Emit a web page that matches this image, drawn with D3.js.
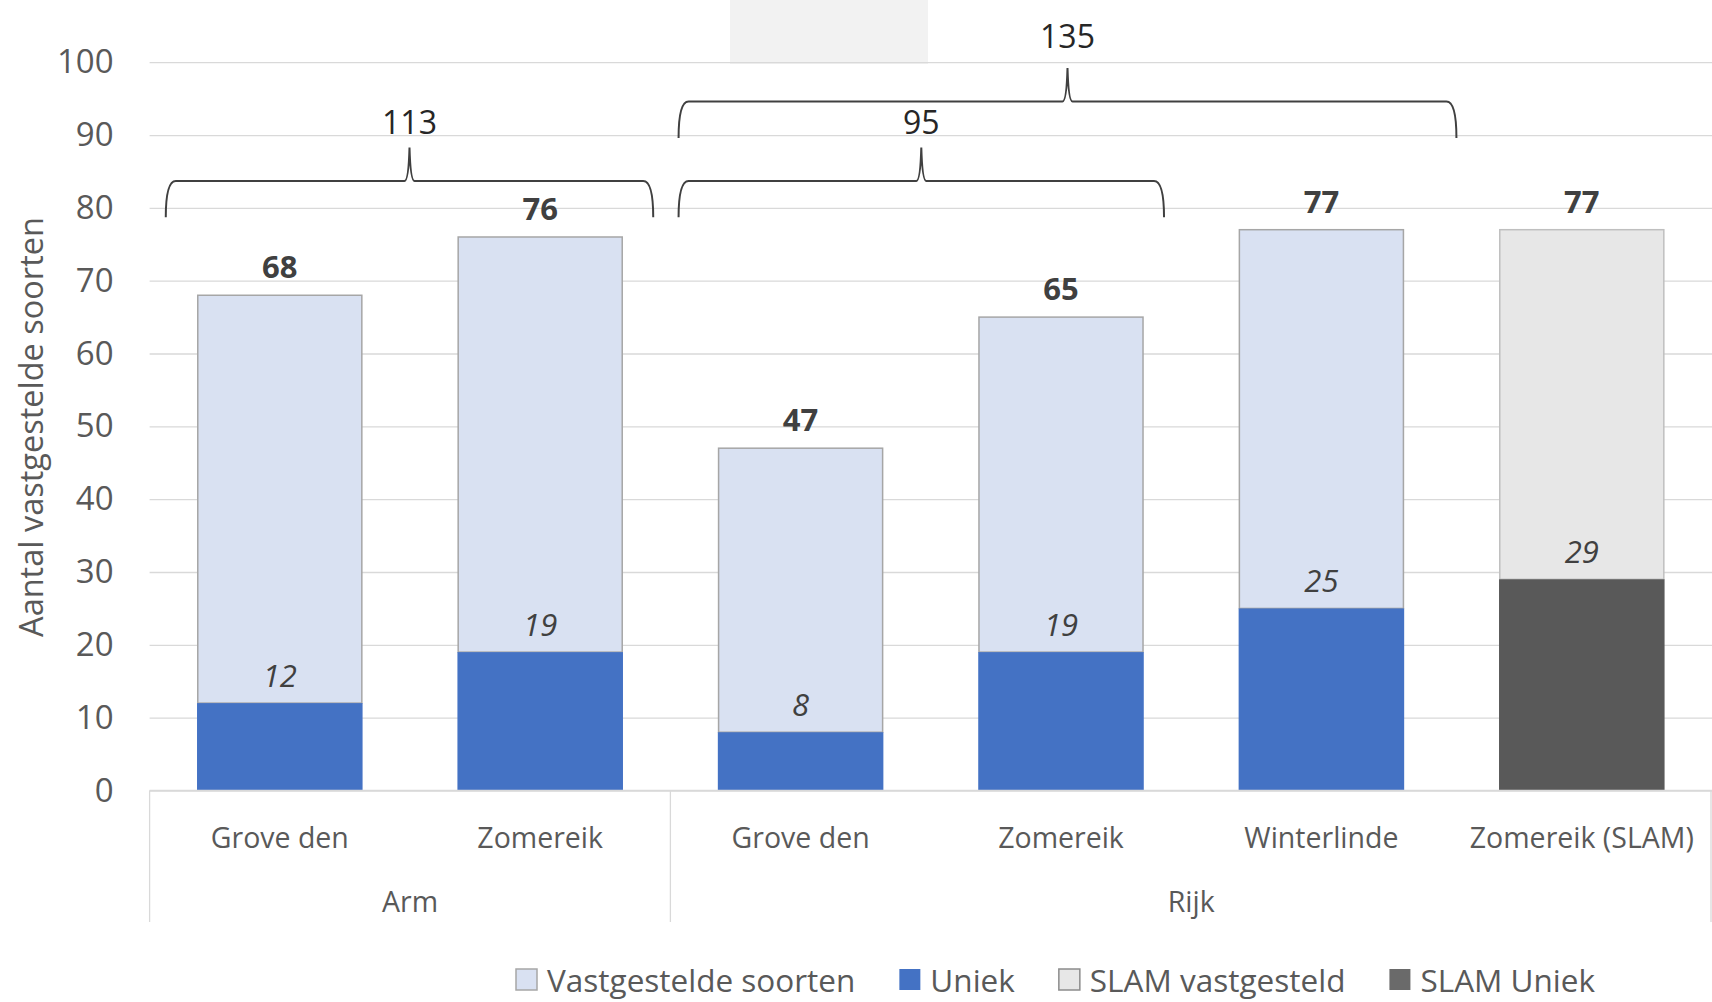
<!DOCTYPE html>
<html><head><meta charset="utf-8">
<script src="https://cdn.jsdelivr.net/npm/d3@7"></script>
<style>
html,body{margin:0;padding:0;background:#fff;}
svg{display:block;font-family:"Open Sans",sans-serif;}
</style></head>
<body>
<svg id="chart" width="1712" height="1002"></svg>
<script>
// ---- data ----
const categories = ["Grove den","Zomereik","Grove den","Zomereik","Winterlinde","Zomereik (SLAM)"];
const groups = ["Arm","Arm","Rijk","Rijk","Rijk","Rijk"];
const totals = [68,76,47,65,77,77];
const uniek = [12,19,8,19,25,29];
const slamFlags = [false,false,false,false,false,true];
const yTicks = [0,10,20,30,40,50,60,70,80,90,100];
const braceLabels = ["113","95","135"];
const braceFrom = [0,2,2];
const braceTo = [1,3,4];
const braceLevel = [0,0,1];
const legendLabels = ["Vastgestelde soorten","Uniek","SLAM vastgesteld","SLAM Uniek"];

// ---- layout / style ----
const W = 1712, H = 1002;
const left = 149.6, right = 1712, y0px = 790.5, y100px = 62.2;
const colors = {vast:"#d9e1f2", vastStroke:"#a6a6a6", uniek:"#4472c4",
  slamVast:"#e7e7e7", slamVastStroke:"#bfbfbf", slamUniek:"#595959"};
const bracePadL = [32,40,40], bracePadR = [31,21,53];

const svg = d3.select("#chart");

const x = d3.scaleBand().domain(d3.range(categories.length)).range([left,right])
  .paddingInner(0.37).paddingOuter(0.185);
const y = d3.scaleLinear().domain([0,100]).range([y0px,y100px]);

// grey artifact box at top
svg.append("rect").attr("x",730).attr("y",0).attr("width",198).attr("height",64)
  .attr("fill","#f2f2f2");

// y axis with gridlines
const yAxis = svg.append("g").attr("transform",`translate(${left},0)`)
  .call(d3.axisLeft(y).tickValues(yTicks).tickSize(-(right-left)).tickPadding(36));
yAxis.select(".domain").remove();
yAxis.selectAll(".tick line").attr("stroke","#d9d9d9").attr("stroke-width",1.3);
yAxis.selectAll(".tick text").attr("fill","#595959").attr("font-size",33)
  .attr("font-family","Open Sans");

// y axis title
svg.append("text").attr("transform",`translate(30,427) rotate(-90)`)
  .attr("text-anchor","middle").attr("dominant-baseline","central")
  .attr("fill","#595959").attr("font-size",32.5).text("Aantal vastgestelde soorten");

// bars
const bars = svg.append("g");
categories.forEach((c,i)=>{
  const bx = x(i), bw = x.bandwidth();
  const slam = slamFlags[i];
  bars.append("rect").attr("x",bx).attr("width",bw)
    .attr("y",y(totals[i])).attr("height",y(uniek[i])-y(totals[i]))
    .attr("fill", slam?colors.slamVast:colors.vast)
    .attr("stroke", slam?colors.slamVastStroke:colors.vastStroke).attr("stroke-width",1.5);
  bars.append("rect").attr("x",bx-0.75).attr("width",bw+1.5)
    .attr("y",y(uniek[i])).attr("height",y(0)-y(uniek[i]))
    .attr("fill", slam?colors.slamUniek:colors.uniek);
  // total label
  bars.append("text").attr("x",bx+bw/2).attr("y",y(totals[i])-29)
    .attr("text-anchor","middle").attr("dominant-baseline","central")
    .attr("font-weight","bold").attr("font-size",31).attr("fill","#404040")
    .text(totals[i]);
  // unique label
  bars.append("text").attr("x",bx+bw/2).attr("y",y(uniek[i])-28)
    .attr("text-anchor","middle").attr("dominant-baseline","central")
    .attr("font-style","italic").attr("font-size",31).attr("fill","#404040")
    .text(uniek[i]);
});

// baseline
svg.append("line").attr("x1",left).attr("x2",right).attr("y1",y(0)).attr("y2",y(0))
  .attr("stroke","#d9d9d9").attr("stroke-width",1.5);

// category axis
const xAxis = svg.append("g").attr("transform",`translate(0,${y(0)})`)
  .call(d3.axisBottom(x).tickSize(0).tickPadding(0).tickFormat(i=>categories[i]));
xAxis.select(".domain").remove();
xAxis.selectAll(".tick text").attr("y",46).attr("dy",0).attr("dominant-baseline","central")
  .attr("fill","#595959").attr("font-size",28.5).attr("font-family","Open Sans");

// group labels and separators
const groupNames = Array.from(new Set(groups));
const step = x.step();
const sepXs = [left];
groupNames.forEach(g=>{
  const idx = groups.map((d,i)=>d===g?i:-1).filter(i=>i>=0);
  const gx0 = x(idx[0]) - x.paddingOuter()*step;
  const gx1 = x(idx[idx.length-1]) + x.bandwidth() + x.paddingOuter()*step;
  sepXs.push(Math.min(gx1,right-1));
  svg.append("text").attr("x",(gx0+gx1)/2).attr("y",901).attr("text-anchor","middle")
    .attr("dominant-baseline","central").attr("fill","#595959").attr("font-size",28.5).text(g);
});
sepXs.forEach(sx=>{
  svg.append("line").attr("x1",sx).attr("x2",sx).attr("y1",y(0)).attr("y2",922)
    .attr("stroke","#d9d9d9").attr("stroke-width",1.3);
});

// braces
const braceG = svg.append("g");
braceLabels.forEach((lab,k)=>{
  const off = braceLevel[k]*10.9;
  const yl = y(83.7+off), ye = y(78.7+off), yt = y(88.3+off), ylab = y(91.8+braceLevel[k]*11.8);
  const xl = x(braceFrom[k]) - bracePadL[k];
  const xr = x(braceTo[k]) + x.bandwidth() + bracePadR[k];
  const xm = (xl+xr)/2;
  const p = d3.path();
  p.moveTo(xl,ye);
  p.quadraticCurveTo(xl,yl,xl+10,yl);
  p.lineTo(xm-5,yl);
  p.quadraticCurveTo(xm-1,yl,xm,yt);
  p.quadraticCurveTo(xm+1,yl,xm+5,yl);
  p.lineTo(xr-10,yl);
  p.quadraticCurveTo(xr,yl,xr,ye);
  braceG.append("path").attr("d",p.toString()).attr("fill","none")
    .attr("stroke","#404040").attr("stroke-width",2);
  braceG.append("text").attr("x",xm).attr("y",ylab).attr("text-anchor","middle")
    .attr("dominant-baseline","central").attr("font-size",32).attr("fill","#262626").text(lab);
});

// legend
const legFill = [colors.vast, colors.uniek, colors.slamVast, "#6a6a6a"];
const legStroke = [colors.vastStroke, "none", "#8c8c8c", "none"];
const leg = svg.append("g");
let lx = 516;
const ly = 979;
legendLabels.forEach((lab,i)=>{
  leg.append("rect").attr("x",lx).attr("y",ly-10).attr("width",21).attr("height",21)
    .attr("fill",legFill[i]).attr("stroke",legStroke[i]).attr("stroke-width",1.5);
  const t = leg.append("text").attr("x",lx+31).attr("y",ly).attr("dominant-baseline","central")
    .attr("fill","#595959").attr("font-size",31.5).text(lab);
  lx = lx + 31 + t.node().getComputedTextLength() + 44;
});
</script>
</body></html>
